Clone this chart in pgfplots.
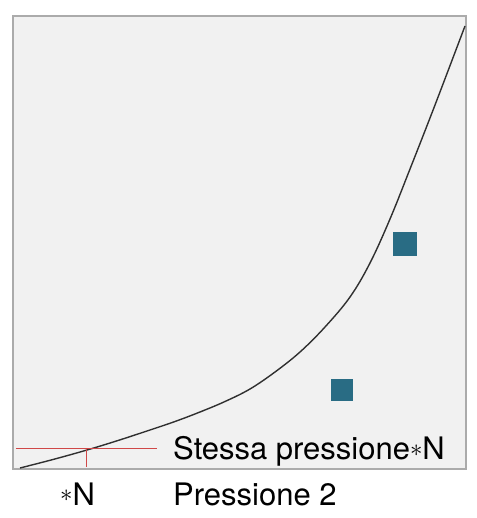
\documentclass[border=0pt]{standalone}
\usepackage{pgfplots}
\pgfplotsset{compat=1.18}
\usepackage{fontspec}
\setmainfont{TeX Gyre Heros}

\definecolor{curvegray}{HTML}{303030}
\definecolor{framegray}{HTML}{ABABAB}
\definecolor{bggray}{HTML}{F1F1F1}
\definecolor{sqteal}{HTML}{296C84}
\definecolor{redline}{HTML}{D04848}

\newcommand{\st}{\raisebox{0.12em}{$\ast$}}

\begin{document}
\begin{tikzpicture}
\useasboundingbox (0,0) rectangle (476pt,518pt);
\begin{axis}[
  at={(13pt,49pt)}, anchor=south west,
  scale only axis,
  width=453pt, height=453pt,
  xmin=0, xmax=453, ymin=0, ymax=453,
  ticks=none,
  clip=false,
  axis line style={framegray, line width=1.4pt},
  axis background/.style={fill=bggray},
]
% curve
\addplot[curvegray, line width=1.4pt, smooth, tension=0.6] coordinates {
  (7,1) (40,9.5) (74,19) (105,28.5) (137,39) (162,47.5) (187,57) (212,67.5)
  (237,80) (262,97) (287,117) (312,142) (337,172) (357,206) (377,250)
  (397,300) (422,364) (452,443)
};
% red guide lines
\addplot[redline, line width=1pt] coordinates {(3,20) (144,20)};
\addplot[redline, line width=1pt] coordinates {(73,20) (73,2)};
% squares
\addplot[only marks, mark=square*, mark size=11.5pt, color=sqteal] coordinates {(391.5,225)};
\addplot[only marks, mark=square*, mark size=10.5pt, color=sqteal] coordinates {(329,79)};
% labels
\node[anchor=base west, inner sep=0pt, font=\fontsize{31}{36}\selectfont] at (axis cs:160,9) {Stessa pressione\st N};
\node[anchor=base west, inner sep=0pt, font=\fontsize{31}{36}\selectfont] at (axis cs:160,-36) {Pressione 2};
\node[anchor=base west, inner sep=0pt, font=\fontsize{31}{36}\selectfont] at (axis cs:47,-36) {\st N};
\end{axis}
\end{tikzpicture}
\end{document}
